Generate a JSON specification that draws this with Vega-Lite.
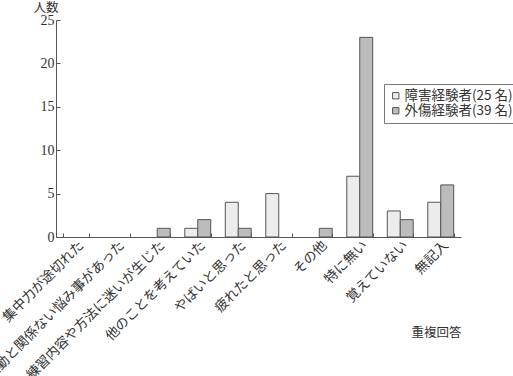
{
  "$schema": "https://vega.github.io/schema/vega-lite/v6.json",
  "width": 405,
  "height": 217,
  "autosize": {"type": "none"},
  "padding": {"left": 56, "top": 20, "right": 52, "bottom": 139},
  "background": "white",
  "config": {
    "view": {"stroke": null},
    "font": "Noto Sans CJK JP"
  },
  "data": {
    "values": [
      {"cat": "集中力が途切れた", "group": "障害経験者(25 名)", "n": 0},
      {"cat": "集中力が途切れた", "group": "外傷経験者(39 名)", "n": 0},
      {"cat": "運動と関係ない悩み事があった", "group": "障害経験者(25 名)", "n": 0},
      {"cat": "運動と関係ない悩み事があった", "group": "外傷経験者(39 名)", "n": 0},
      {"cat": "練習内容や方法に迷いが生じた", "group": "障害経験者(25 名)", "n": 0},
      {"cat": "練習内容や方法に迷いが生じた", "group": "外傷経験者(39 名)", "n": 1},
      {"cat": "他のことを考えていた", "group": "障害経験者(25 名)", "n": 1},
      {"cat": "他のことを考えていた", "group": "外傷経験者(39 名)", "n": 2},
      {"cat": "やばいと思った", "group": "障害経験者(25 名)", "n": 4},
      {"cat": "やばいと思った", "group": "外傷経験者(39 名)", "n": 1},
      {"cat": "疲れたと思った", "group": "障害経験者(25 名)", "n": 5},
      {"cat": "疲れたと思った", "group": "外傷経験者(39 名)", "n": 0},
      {"cat": "その他", "group": "障害経験者(25 名)", "n": 0},
      {"cat": "その他", "group": "外傷経験者(39 名)", "n": 1},
      {"cat": "特に無い", "group": "障害経験者(25 名)", "n": 7},
      {"cat": "特に無い", "group": "外傷経験者(39 名)", "n": 23},
      {"cat": "覚えていない", "group": "障害経験者(25 名)", "n": 3},
      {"cat": "覚えていない", "group": "外傷経験者(39 名)", "n": 2},
      {"cat": "無記入", "group": "障害経験者(25 名)", "n": 4},
      {"cat": "無記入", "group": "外傷経験者(39 名)", "n": 6}
    ]
  },
  "mark": {"type": "bar", "stroke": "#555555", "strokeWidth": 1},
  "encoding": {
    "x": {
      "field": "cat",
      "type": "nominal",
      "sort": null,
      "scale": {"paddingInner": 0.36, "paddingOuter": 0.18},
      "axis": {
        "title": "重複回答",
        "titleFontSize": 12.5,
        "titleFontWeight": "normal",
        "titleColor": "#333333",
        "titleAnchor": "end",
        "titleAlign": "right",
        "titleBaseline": "top",
        "titleX": 405,
        "titleY": 89,
        "labelAngle": -45,
        "labelFontSize": 13.5,
        "labelColor": "#333333",
        "labelPadding": 5,
        "tickBand": "extent",
        "ticks": true,
        "tickSize": -4,
        "tickColor": "#555555",
        "domainColor": "#555555",
        "labelLimit": 0
      }
    },
    "xOffset": {
      "field": "group",
      "type": "nominal",
      "sort": ["障害経験者(25 名)", "外傷経験者(39 名)"],
      "scale": {"paddingInner": 0, "paddingOuter": 0}
    },
    "y": {
      "field": "n",
      "type": "quantitative",
      "scale": {"domain": [0, 25], "nice": false},
      "axis": {
        "title": "人数",
        "titleAngle": 0,
        "titleFontSize": 12.5,
        "titleFontWeight": "normal",
        "titleColor": "#333333",
        "titleX": -23,
        "titleY": -13,
        "titleAlign": "left",
        "titleBaseline": "middle",
        "values": [0, 5, 10, 15, 20, 25],
        "grid": false,
        "tickSize": -4,
        "tickColor": "#555555",
        "domainColor": "#555555",
        "labelFont": "Liberation Serif",
        "labelFontSize": 14,
        "labelColor": "#333333",
        "labelPadding": 6
      }
    },
    "strokeOpacity": {
      "condition": {"test": "datum.n == 0", "value": 0},
      "value": 1
    },
    "fill": {
      "field": "group",
      "type": "nominal",
      "sort": ["障害経験者(25 名)", "外傷経験者(39 名)"],
      "scale": {"range": ["#ececec", "#bcbcbc"]},
      "legend": {
        "title": null,
        "orient": "none",
        "legendX": 328,
        "legendY": 64,
        "symbolType": "square",
        "symbolSize": 40,
        "symbolStrokeColor": "#555555",
        "symbolStrokeWidth": 1,
        "labelFontSize": 13.5,
        "labelColor": "#333333",
        "labelOffset": 2,
        "rowPadding": 0,
        "padding": 5,
        "strokeColor": "#777777",
        "fillColor": "white"
      }
    }
  }
}
